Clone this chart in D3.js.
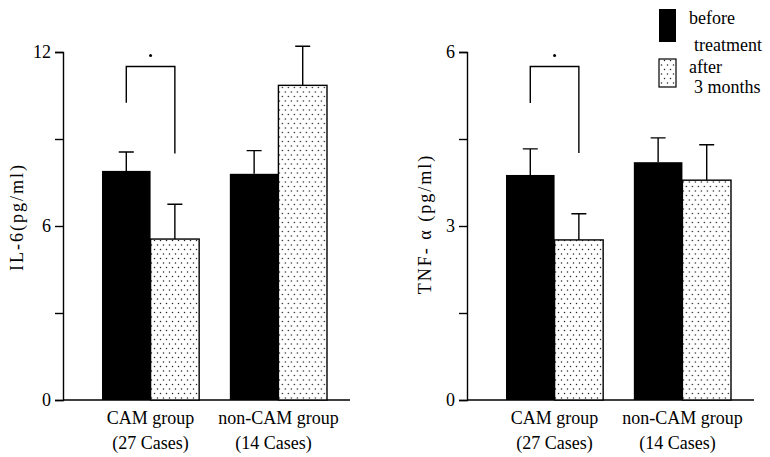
<!DOCTYPE html>
<html lang="en">
<head>
    <meta charset="UTF-8">
    <title>IL-6 and TNF-a</title>
    <style>
        body { margin: 0; background: #fff; }
        #chart { font-family: "Liberation Serif", "DejaVu Serif", serif; }
        .bar-before { fill: #000; }
        .bar-after { fill: url(#dots); stroke: #000; stroke-width: 1.4; }
        .err, .bracket { stroke: #000; stroke-width: 1.4; fill: none; }
        .axis path, .axis line { stroke: #000; stroke-width: 1.4; }
        .axis text { font-family: "Liberation Serif", serif; font-size: 18px; fill: #000; }
    </style>
    <script src="https://d3js.org/d3.v7.min.js"></script>
</head>
<body>
<div id="chart"></div>
<script>
// data
const groups = ["CAM group", "non-CAM group"];
const groupCases = ["(27 Cases)", "(14 Cases)"];
const series = ["before", "after"];

const il6Before = [7.9, 7.8];
const il6After = [5.55, 10.85];
const il6BeforeErr = [8.55, 8.6];
const il6AfterErr = [6.75, 12.2];
const il6Ticks = [0, 3, 6, 9, 12];
const il6Labels = [0, 6, 12];

const tnfBefore = [3.88, 4.1];
const tnfAfter = [2.76, 3.79];
const tnfBeforeErr = [4.33, 4.52];
const tnfAfterErr = [3.21, 4.4];
const tnfTicks = [0, 1.5, 3, 4.5, 6];
const tnfLabels = [0, 3, 6];

const width = 770, height = 457;
const svg = d3.select("#chart").append("svg")
    .attr("width", width)
    .attr("height", height);

// dotted fill
const pat = svg.append("defs").append("pattern")
    .attr("id", "dots")
    .attr("patternUnits", "userSpaceOnUse")
    .attr("width", 6).attr("height", 9);
pat.append("rect").attr("width", 6).attr("height", 9).attr("fill", "#fff");
pat.append("circle").attr("cx", 1.5).attr("cy", 2).attr("r", 0.75).attr("fill", "#222");
pat.append("circle").attr("cx", 4.5).attr("cy", 6.5).attr("r", 0.75).attr("fill", "#222");

const panels = [
    {x: 63, max: 12, ticks: il6Ticks, labels: il6Labels, before: il6Before, after: il6After,
     beforeErr: il6BeforeErr, afterErr: il6AfterErr, label: "IL-6(pg/ml)", labelX: 17, labelY: 217,
     bracket: [10.25, 11.5, 8.5]},
    {x: 467, max: 6, ticks: tnfTicks, labels: tnfLabels, before: tnfBefore, after: tnfAfter,
     beforeErr: tnfBeforeErr, afterErr: tnfAfterErr, label: "TNF- \u03b1 (pg/ml)", labelX: 425, labelY: 224,
     bracket: [5.12, 5.75, 4.26]}
];

const plotTop = 52, plotBottom = 400;

panels.forEach(p => {
    const g = svg.append("g").attr("transform", "translate(" + p.x + ",0)");

    const y = d3.scaleLinear().domain([0, p.max]).range([plotBottom, plotTop]);
    const x = d3.scaleBand().domain(groups).range([39, 264]).paddingInner(0.24).paddingOuter(0);
    const xs = d3.scaleBand().domain(series).range([0, x.bandwidth()]).padding(0);

    const yAxis = g.append("g").attr("class", "axis")
        .call(d3.axisLeft(y).tickValues(p.ticks).tickSizeOuter(0).tickSize(8)
            .tickFormat(d => p.labels.includes(d) ? d : ""));
    yAxis.selectAll("text").attr("dx", "-1");

    // baseline
    g.append("line")
        .attr("x1", 0).attr("x2", 287)
        .attr("y1", y(0)).attr("y2", y(0))
        .attr("stroke", "#000").attr("stroke-width", 1.4);

    const rows = groups.map((grp, i) => ({
        grp: grp,
        vals: [
            {s: "before", v: p.before[i], e: p.beforeErr[i]},
            {s: "after", v: p.after[i], e: p.afterErr[i]}
        ]
    }));

    const gg = g.selectAll(".grp").data(rows).enter().append("g")
        .attr("transform", d => "translate(" + x(d.grp) + ",0)");

    gg.selectAll(".err").data(d => d.vals).enter().append("path")
        .attr("class", "err")
        .attr("d", d => {
            const cx = xs(d.s) + xs.bandwidth() / 2;
            return "M" + cx + "," + y(d.v) + "V" + y(d.e) + "M" + (cx - 7.5) + "," + y(d.e) + "H" + (cx + 7.5);
        });

    gg.selectAll("rect").data(d => d.vals).enter().append("rect")
        .attr("class", d => "bar-" + d.s)
        .attr("x", d => xs(d.s))
        .attr("y", d => y(d.v))
        .attr("width", xs.bandwidth())
        .attr("height", d => y(0) - y(d.v));

    // significance bracket on CAM group
    const bx0 = x(groups[0]) + xs("before") + xs.bandwidth() / 2;
    const bx1 = x(groups[0]) + xs("after") + xs.bandwidth() / 2;
    g.append("path").attr("class", "bracket")
        .attr("d", "M" + bx0 + "," + y(p.bracket[0]) + "V" + y(p.bracket[1]) + "H" + bx1 + "V" + y(p.bracket[2]));
    g.append("circle")
        .attr("cx", (bx0 + bx1) / 2).attr("cy", y(p.bracket[1]) - 11).attr("r", 1.5).attr("fill", "#000");

    // group labels
    groups.forEach((grp, i) => {
        const cx = x(grp) + x.bandwidth() / 2;
        g.append("text").attr("x", cx).attr("y", 424)
            .attr("text-anchor", "middle").attr("font-size", 18).text(grp);
        g.append("text").attr("x", cx - (i ? 5 : 0)).attr("y", 449)
            .attr("text-anchor", "middle").attr("font-size", 18).text(groupCases[i]);
    });

    svg.append("text")
        .attr("transform", "translate(" + p.labelX + "," + p.labelY + ") rotate(-90)")
        .attr("text-anchor", "middle").attr("dy", "0.35em")
        .attr("letter-spacing", 2)
        .attr("font-size", 18).text(p.label);
});

// legend
const legend = svg.append("g");
legend.append("rect").attr("x", 659).attr("y", 9).attr("width", 17).attr("height", 33).attr("fill", "#000");
legend.append("rect").attr("x", 659).attr("y", 59).attr("width", 17).attr("height", 28)
    .attr("fill", "url(#dots)").attr("stroke", "#000").attr("stroke-width", 1.2);
const legendText = [["before", 689, 24], ["treatment", 694, 51], ["after", 689, 73], ["3 months", 694, 93]];
legend.selectAll("text").data(legendText).enter().append("text")
    .attr("x", d => d[1]).attr("y", d => d[2]).attr("font-size", 18).text(d => d[0]);
</script>
</body>
</html>
